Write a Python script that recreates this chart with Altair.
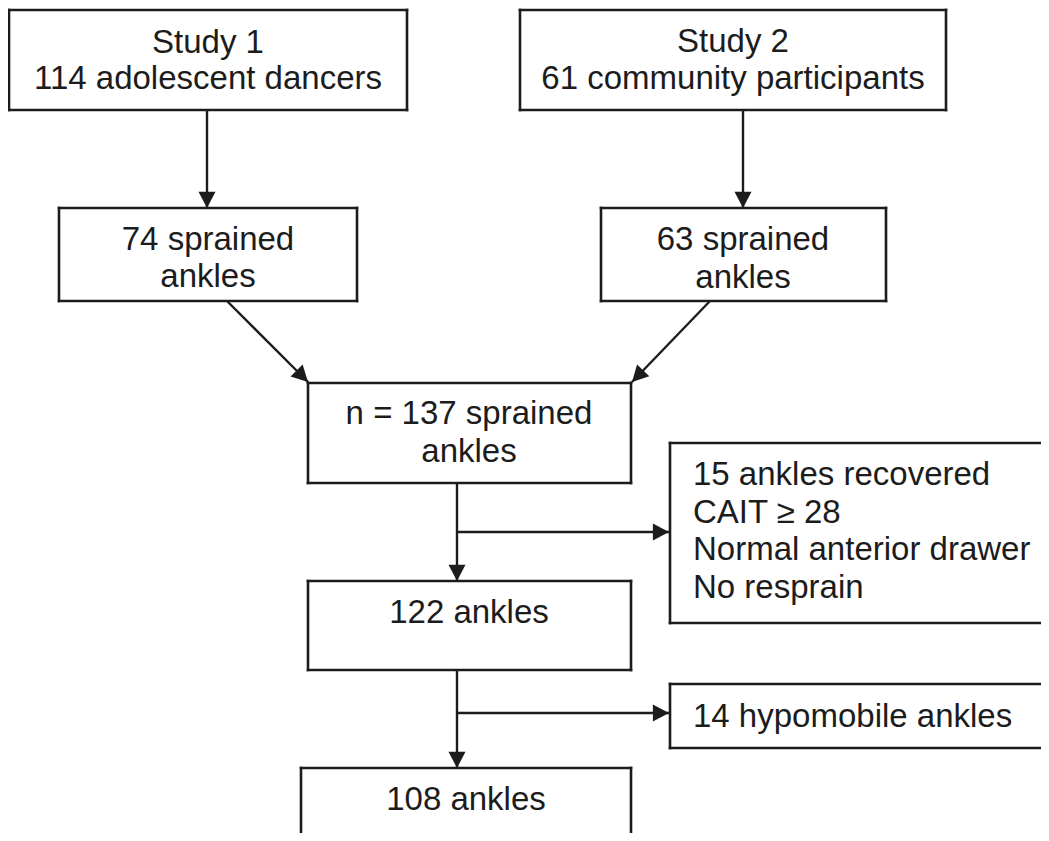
import altair as alt
import numpy as np
import pandas as pd

# ---- flowchart content (page-pixel layout of the diagram) ----
box_x0 = [9, 520, 59, 601, 308, 670, 308, 670, 301]
box_x1 = [407, 946, 357, 886, 631, 1060, 631, 1060, 631]
box_y0 = [10, 10, 208, 208, 383, 443, 581, 684, 768]
box_y1 = [110, 110, 301, 301, 483, 623, 670, 748, 860]

text_labels = [
    "Study 1", "114 adolescent dancers",
    "Study 2", "61 community participants",
    "74 sprained", "ankles",
    "63 sprained", "ankles",
    "n = 137 sprained", "ankles",
    "15 ankles recovered", "CAIT \u2265 28", "Normal anterior drawer", "No resprain",
    "122 ankles",
    "14 hypomobile ankles",
    "108 ankles",
]
text_x = [208, 208, 733, 733, 208, 208, 743, 743, 469, 469,
          693, 693, 693, 693, 469, 693, 466]
text_y = [53, 89, 52, 89, 250, 287, 250, 288, 424, 462,
          485, 523, 560, 598, 623, 727, 810]
text_align = ["center"] * 10 + ["left"] * 4 + ["center", "left", "center"]

arrow_x0 = [207, 743, 227, 710, 457, 457, 457, 457]
arrow_y0 = [110, 110, 301, 301, 483, 532, 670, 713]
arrow_x1 = [207, 743, 308, 632, 457, 669, 457, 669]
arrow_y1 = [208, 208, 382, 382, 581, 532, 768, 713]

INK = "#1c1c1c"
FONT = "Liberation Sans"
FS = 33

W, H = 1033, 825
XMIN, XMAX = 8, 8 + W
YMIN, YMAX = 8, 8 + H

boxes = pd.DataFrame({"x0": box_x0, "x1": box_x1, "y0": box_y0, "y1": box_y1})
texts = pd.DataFrame({"label": text_labels, "x": text_x, "y": text_y, "align": text_align})
arrows = pd.DataFrame({"x0": arrow_x0, "y0": arrow_y0, "x1": arrow_x1, "y1": arrow_y1})

# box borders as segments; sides lying beyond the visible page are not drawn
edges = []
for b in boxes.itertuples():
    xr = min(b.x1, XMAX)
    yb = min(b.y1, YMAX)
    edges.append((b.x0, b.y0, xr, b.y0))          # top
    edges.append((b.x0, b.y0, b.x0, yb))          # left
    if b.y1 <= YMAX:
        edges.append((b.x0, b.y1, xr, b.y1))      # bottom
    if b.x1 <= XMAX:
        edges.append((b.x1, b.y0, b.x1, yb))      # right
edges = pd.DataFrame(edges, columns=["x0", "y0", "x1", "y1"])

# arrowhead placement derived from the connector endpoints
dx = arrows.x1 - arrows.x0
dy = arrows.y1 - arrows.y0
heads = pd.DataFrame({
    "x": arrows.x1,
    "y": arrows.y1,
    "angle": np.mod(np.degrees(np.arctan2(-dx, dy)), 360),
})

xs = alt.Scale(domain=[XMIN, XMAX], nice=False, zero=False)
ys = alt.Scale(domain=[YMIN, YMAX], nice=False, zero=False, reverse=True)

edge_layer = alt.Chart(edges).mark_rule(
    color=INK, strokeWidth=2.6, strokeCap="square"
).encode(
    x=alt.X("x0:Q", scale=xs, axis=None),
    x2="x1:Q",
    y=alt.Y("y0:Q", scale=ys, axis=None),
    y2="y1:Q",
)

line_layer = alt.Chart(arrows).mark_rule(color=INK, strokeWidth=2.4).encode(
    x=alt.X("x0:Q", scale=xs, axis=None),
    x2="x1:Q",
    y=alt.Y("y0:Q", scale=ys, axis=None),
    y2="y1:Q",
)

# arrowhead with its tip at the shape origin
head_layer = alt.Chart(heads).mark_point(
    shape="M-1,-1.9L1,-1.9L0,0Z", filled=True, color=INK, opacity=1,
    size=289, strokeWidth=0,
).encode(
    x=alt.X("x:Q", scale=xs, axis=None),
    y=alt.Y("y:Q", scale=ys, axis=None),
    angle=alt.Angle("angle:Q", scale=None),
)

def text_layer(align):
    return alt.Chart(texts[texts["align"] == align]).mark_text(
        font=FONT, fontSize=FS, color=INK, align=align, baseline="alphabetic"
    ).encode(
        x=alt.X("x:Q", scale=xs, axis=None),
        y=alt.Y("y:Q", scale=ys, axis=None),
        text="label:N",
    )

chart = alt.layer(
    edge_layer, line_layer, head_layer, text_layer("center"), text_layer("left")
).properties(
    width=W, height=H, padding=0,
    autosize=alt.AutoSizeParams(type="none"),
    background="white",
).configure_view(stroke=None)

chart.save("out.html", embed_options={"renderer": "svg", "actions": False})
